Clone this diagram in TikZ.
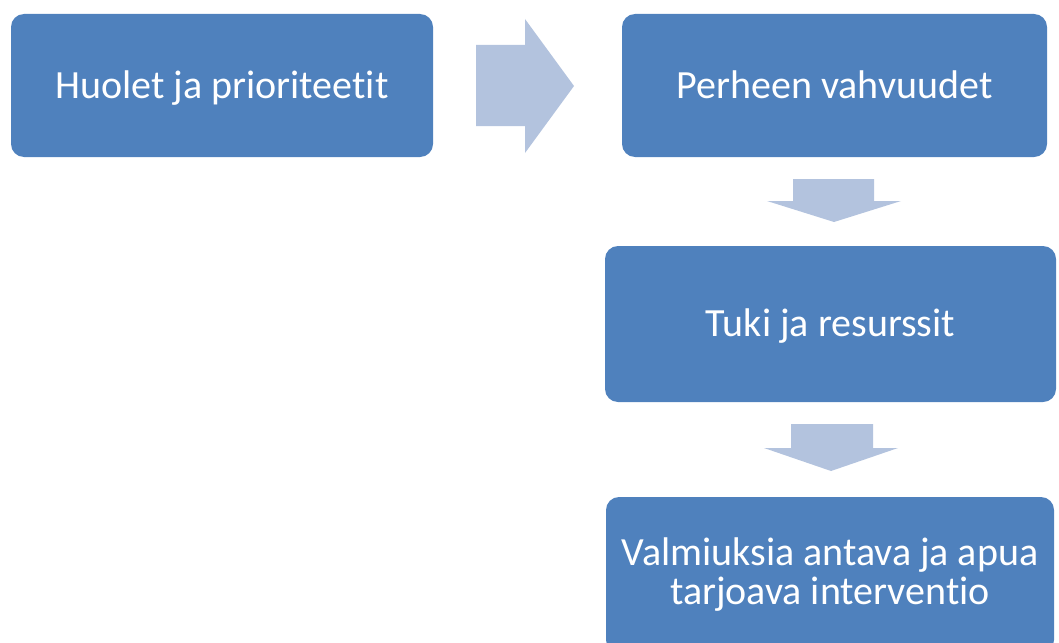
\documentclass[tikz,border=0pt]{standalone}
\usepackage{fontspec}
\setmainfont{Carlito}[Ligatures=NoCommon]
\definecolor{boxblue}{HTML}{4F81BD}
\definecolor{arrowblue}{HTML}{B3C3DE}
\begin{document}
\begin{tikzpicture}[x=1pt,y=-1pt,
  stage/.style={rectangle, fill=boxblue, rounded corners=13pt, inner sep=0pt,
    text=white, align=center, font=\fontsize{40}{39}\selectfont},
  oneline/.style={text height=25pt, text depth=0pt},
  blockarrow/.style={fill=arrowblue}]
\useasboundingbox (0,0) rectangle (1059,642);
\clip (0,0) rectangle (1059,642);

% process stages
\node[stage, oneline, minimum width=422pt, minimum height=143pt] (huolet) at (222,85.5)
  {Huolet ja prioriteetit};
\node[stage, oneline, minimum width=425pt, minimum height=143pt] (perhe) at (834.5,85.5)
  {Perheen vahvuudet};
\node[stage, oneline, minimum width=451pt, minimum height=156pt] (tuki) at (830.5,324)
  {Tuki ja resurssit};
\node[stage, minimum width=448pt, minimum height=156pt] (valm) at (830,575)
  {Valmiuksia antava ja apua\\tarjoava interventio};

% block arrows between the stages
\fill[blockarrow] (476,45) -- (525,45) -- (525,19) -- (574,86) -- (525,153) -- (525,126) -- (476,126) -- cycle;
\fill[blockarrow] (793,179) -- (874,179) -- (874,201) -- (901,201) -- (834,222) -- (767,201) -- (793,201) -- cycle;
\fill[blockarrow] (791,424) -- (873,424) -- (873,448) -- (898,448) -- (831,471) -- (764,448) -- (791,448) -- cycle;
\end{tikzpicture}
\end{document}
